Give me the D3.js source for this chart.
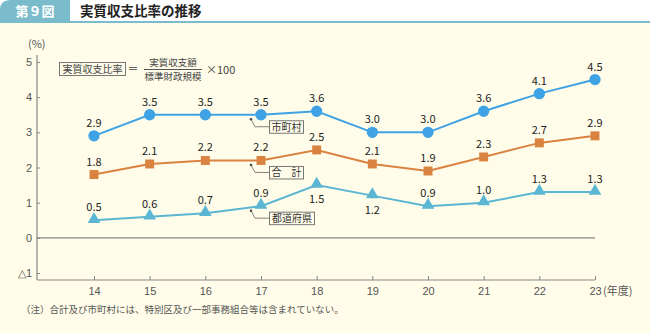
<!DOCTYPE html>
<meta charset="utf-8">
<html><head>
<style>
body { margin: 0; background: #fffde9; }
svg { display: block; font-family: "Noto Sans CJK JP", "Noto Sans", sans-serif; }
.axis text { fill: #555; font-size: 11px; }
.lbl { fill: #222; font-size: 11px; text-anchor: middle; }
</style>
</head>
<body>
<svg width="650" height="333"></svg>
<script src="https://d3js.org/d3.v7.min.js"></script>
<script>

var years = [14, 15, 16, 17, 18, 19, 20, 21, 22, 23];
var shichoson = [2.9, 3.5, 3.5, 3.5, 3.6, 3.0, 3.0, 3.6, 4.1, 4.5];
var goukei = [1.8, 2.1, 2.2, 2.2, 2.5, 2.1, 1.9, 2.3, 2.7, 2.9];
var todofuken = [0.5, 0.6, 0.7, 0.9, 1.5, 1.2, 0.9, 1.0, 1.3, 1.3];
var yTicks = [-1, 0, 1, 2, 3, 4, 5];
// labels drawn under the mark instead of above
var belowIdx = { "todofuken": [4, 5] };

var svg = d3.select("svg");

// header
svg.append("rect").attr("x", 0).attr("y", 0).attr("width", 650).attr("height", 22).attr("fill", "#fff");
svg.append("path").attr("d", "M0,22 L0,10 Q0,0 10,0 L70,0 L70,22 Z").attr("fill", "#7bbccc");
svg.append("rect").attr("x", 0).attr("y", 21).attr("width", 650).attr("height", 2).attr("fill", "#7bbccc");
svg.append("text").attr("x", 35).attr("y", 16).attr("text-anchor", "middle")
    .attr("fill", "#fff").attr("font-size", 13).attr("font-weight", "bold").text("第９図");
svg.append("text").attr("x", 80).attr("y", 16)
    .attr("fill", "#222").attr("font-size", 13.5).attr("font-weight", "bold").text("実質収支比率の推移");

var x = d3.scaleLinear().domain([14, 23]).range([94, 595]);
var y = d3.scaleLinear().domain([-1, 5]).range([273, 62]);

// y axis
var yAxis = svg.append("g").attr("class", "axis").attr("transform", "translate(37,0)")
    .call(d3.axisRight(y).tickValues(yTicks).tickSize(3)
      .tickFormat(function(d) { return d < 0 ? "△" + (-d) : d; }));
yAxis.select(".domain").remove();
yAxis.selectAll("line").attr("stroke", "#888");
yAxis.selectAll("text").attr("x", -5).attr("text-anchor", "end");
svg.append("line").attr("x1", 37).attr("x2", 37).attr("y1", 55).attr("y2", 280)
    .attr("stroke", "#888").attr("stroke-width", 1.2);

// x axis
var xAxis = svg.append("g").attr("class", "axis").attr("transform", "translate(0,280)")
    .call(d3.axisTop(x).tickValues(years).tickSize(4));
xAxis.select(".domain").remove();
xAxis.selectAll("line").attr("stroke", "#888");
xAxis.selectAll("text").attr("y", 15).attr("dy", 0);
svg.append("line").attr("x1", 37).attr("x2", 595).attr("y1", 280).attr("y2", 280)
    .attr("stroke", "#888").attr("stroke-width", 1.2);
svg.append("text").attr("x", 603).attr("y", 295).attr("fill", "#555").attr("font-size", 11).text("(年度)");
svg.append("text").attr("x", 28).attr("y", 48).attr("fill", "#555").attr("font-size", 11).text("(%)");

// zero line
svg.append("line").attr("x1", 37).attr("x2", 595).attr("y1", y(0)).attr("y2", y(0))
    .attr("stroke", "#888").attr("stroke-width", 1.2);

// formula
svg.append("rect").attr("x", 59.5).attr("y", 62.5).attr("width", 66).attr("height", 13)
    .attr("fill", "none").attr("stroke", "#777");
svg.append("text").attr("x", 92.5).attr("y", 73).attr("text-anchor", "middle").attr("fill", "#444")
    .attr("font-size", 10).text("実質収支比率");
svg.append("text").attr("x", 133).attr("y", 73).attr("text-anchor", "middle").attr("fill", "#444")
    .attr("font-size", 11).text("＝");
svg.append("text").attr("x", 173).attr("y", 66).attr("text-anchor", "middle").attr("fill", "#444")
    .attr("font-size", 9.5).text("実質収支額");
svg.append("line").attr("x1", 144).attr("x2", 202).attr("y1", 69.5).attr("y2", 69.5).attr("stroke", "#555");
svg.append("text").attr("x", 173).attr("y", 80).attr("text-anchor", "middle").attr("fill", "#444")
    .attr("font-size", 9.5).text("標準財政規模");
svg.append("text").attr("x", 206).attr("y", 74).attr("fill", "#444").attr("font-size", 11).text("×100");

var line = d3.line().x(function(d, i) { return x(years[i]); }).y(function(d) { return y(d); });

var series = [
  { key: "shichoson", values: shichoson, color: "#3fa2e4", shape: d3.symbolCircle, size: 100 },
  { key: "goukei", values: goukei, color: "#da8240", shape: d3.symbolSquare, size: 80 },
  { key: "todofuken", values: todofuken, color: "#5ab6d2", shape: d3.symbolTriangle, size: 70 }
];

series.forEach(function(s) {
  var g = svg.append("g");
  g.append("path").datum(s.values).attr("d", line)
      .attr("fill", "none").attr("stroke", s.color).attr("stroke-width", 2);
  g.selectAll(".m").data(s.values).enter().append("path")
      .attr("d", d3.symbol().type(s.shape).size(s.size))
      .attr("transform", function(d, i) {
        var dy = s.shape === d3.symbolTriangle ? -1 : 0;
        return "translate(" + x(years[i]) + "," + (y(d) + dy) + ")";
      })
      .attr("fill", s.color);
  var below = belowIdx[s.key] || [];
  g.selectAll(".lbl").data(s.values).enter().append("text")
      .attr("class", "lbl")
      .attr("x", function(d, i) { return x(years[i]); })
      .attr("y", function(d, i) { return below.indexOf(i) >= 0 ? y(d) + 18 : y(d) - 9; })
      .text(function(d) { return d.toFixed(1); });
});

// callout boxes
var callouts = [
  { text: "市町村", v: 3.5, w: 34 },
  { text: "合　計", v: 2.2, w: 34 },
  { text: "都道府県", v: 0.9, w: 45 }
];
callouts.forEach(function(c) {
  var px = x(17), py = y(c.v);
  var cy = py + 12;
  svg.append("circle").attr("cx", px - 10).attr("cy", py + 4.5).attr("r", 1.3).attr("fill", "#444");
  svg.append("polyline")
      .attr("points", [[px - 10, py + 4.5], [px - 6, cy], [px + 8, cy]].join(" "))
      .attr("fill", "none").attr("stroke", "#666").attr("stroke-width", 0.8);
  svg.append("rect").attr("x", px + 8.5).attr("y", cy - 6).attr("width", c.w).attr("height", 12.5)
      .attr("fill", "#fffde9").attr("stroke", "#777");
  svg.append("text").attr("x", px + 8.5 + c.w / 2).attr("y", cy + 4).attr("text-anchor", "middle")
      .attr("fill", "#333").attr("font-size", 10).text(c.text);
});

// note
svg.append("text").attr("x", 21).attr("y", 313).attr("fill", "#555").attr("font-size", 9.5)
    .text("（注）合計及び市町村には、特別区及び一部事務組合等は含まれていない。");

</script>
</body>
</html>
